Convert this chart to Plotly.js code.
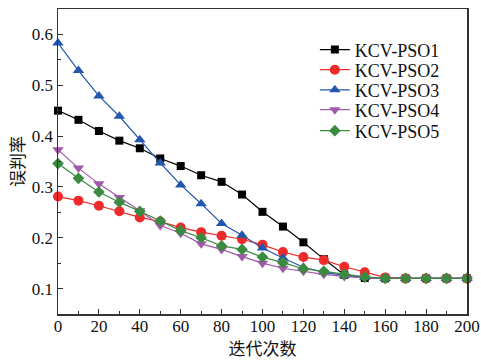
<!DOCTYPE html>
<html><head><meta charset="utf-8">
<script src="https://cdn.plot.ly/plotly-3.0.1.min.js"></script>
<style>body{margin:0;padding:0;background:#fff}#chart{width:481px;height:360px}</style>
</head><body><div id="chart"></div>
<script>
var iterations = [0,10,20,30,40,50,60,70,80,90,100,110,120,130,140,150,160,170,180,190,200];
var pso1 = [0.450,0.432,0.410,0.391,0.376,0.356,0.341,0.323,0.310,0.285,0.251,0.222,0.191,0.158,0.127,0.121,0.120,0.120,0.120,0.120,0.120];
var pso2 = [0.281,0.273,0.263,0.252,0.240,0.232,0.220,0.211,0.204,0.197,0.186,0.172,0.162,0.156,0.143,0.132,0.122,0.120,0.120,0.120,0.120];
var pso3 = [0.583,0.529,0.479,0.439,0.393,0.347,0.304,0.267,0.228,0.205,0.180,0.160,0.142,0.132,0.126,0.122,0.120,0.120,0.120,0.120,0.120];
var pso4 = [0.373,0.337,0.306,0.279,0.253,0.224,0.209,0.188,0.177,0.163,0.150,0.140,0.134,0.128,0.124,0.121,0.120,0.120,0.120,0.120,0.120];
var pso5 = [0.346,0.317,0.290,0.270,0.252,0.233,0.214,0.200,0.184,0.177,0.162,0.151,0.139,0.134,0.128,0.123,0.120,0.120,0.120,0.120,0.120];
var names = ['KCV-PSO1','KCV-PSO2','KCV-PSO3','KCV-PSO4','KCV-PSO5'];
var colors = ['#000000','#ee2a2a','#2356ad','#a05aaa','#3a8a40'];
var symbols = ['square','circle','triangle-up','triangle-down','diamond'];
var sizes = [8,10,10,10,9];
var series = [pso1,pso2,pso3,pso4,pso5];
var legendIds = ['legend','legend2','legend3','legend4','legend5'];
var legendY = [0.866,0.800,0.734,0.669,0.600];
var fontSerif = 'Liberation Serif, Times New Roman, serif';
var traces = series.map(function(s,i){
  return {x:iterations, y:s, name:names[i], type:'scatter', mode:'lines+markers',
    legend:legendIds[i],
    line:{color:colors[i], width:1.2},
    marker:{color:colors[i], symbol:symbols[i], size:sizes[i]},
    cliponaxis:false};
});
var layout = {
  width:481, height:360,
  margin:{l:58, r:14, t:9, b:46},
  paper_bgcolor:'#fff', plot_bgcolor:'#fff',
  showlegend:true,
  xaxis:{range:[0,200], tickvals:[0,20,40,60,80,100,120,140,160,180,200], ticks:'inside', ticklen:5, tickcolor:'#333',
    minor:{dtick:10, ticks:'inside', ticklen:3, tickcolor:'#333'},
    showline:true, linecolor:'#333', linewidth:1.5, mirror:true, showgrid:false, zeroline:false,
    ticklabelstandoff:-4,
    tickfont:{family:fontSerif, size:17, color:'#111'},
    title:{text:'迭代次数', font:{family:'Noto Sans CJK SC', size:17, color:'#111'}, standoff:10}},
  yaxis:{range:[0.05,0.65], tickvals:[0.1,0.2,0.3,0.4,0.5,0.6], ticktext:['0.1','0.2','0.3','0.4','0.5','0.6'], ticks:'inside', ticklen:5, tickcolor:'#333',
    minor:{dtick:0.05, tick0:0.05, ticks:'inside', ticklen:3, tickcolor:'#333'},
    showline:true, linecolor:'#333', linewidth:1.5, mirror:true, showgrid:false, zeroline:false,
    tickfont:{family:fontSerif, size:17, color:'#111'},
    title:{text:'误判率', font:{family:'Noto Sans CJK SC', size:17, color:'#111'}, standoff:3}}
};
legendIds.forEach(function(id,i){
  layout[id] = {x:0.628, y:legendY[i], xanchor:'left', yanchor:'middle',
    font:{family:fontSerif, size:18, color:'#111'}, bgcolor:'rgba(0,0,0,0)', itemwidth:30};
});
Plotly.newPlot('chart', traces, layout, {displayModeBar:false, staticPlot:true});
</script></body></html>
